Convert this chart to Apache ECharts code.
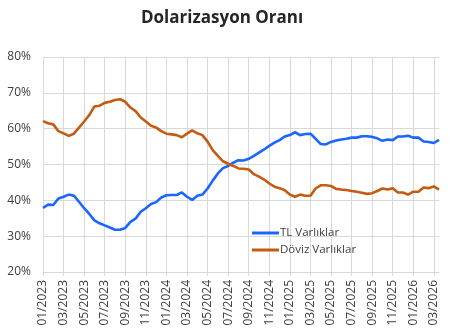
<!DOCTYPE html>
<html>
<head>
<meta charset="utf-8">
<script src="https://cdn.jsdelivr.net/npm/echarts@6/dist/echarts.min.js"></script>
<style>
  html, body { margin: 0; padding: 0; background: #fff; }
  #chart { width: 454px; height: 334px; }
</style>
</head>
<body>
<div id="chart"></div>
<script>
// Semi-monthly observation dates (1st and 16th of each month), Jan 2023 – Mar 2026
const periods = [];
for (let y = 2023; y <= 2026; y++) {
  for (let m = 1; m <= 12; m++) {
    if (y === 2026 && m > 3) break;
    const mm = String(m).padStart(2, '0');
    periods.push(y + '-' + mm + '-01', y + '-' + mm + '-16');
  }
}

// Share of TL deposits in total (%)
const tlVarliklar = [
  37.9, 38.8, 38.7, 40.5, 41.0, 41.6, 41.3, 39.6, 37.8, 36.2,
  34.4, 33.6, 33.0, 32.4, 31.8, 31.8, 32.3, 34.0, 34.9, 36.8,
  37.8, 39.0, 39.5, 40.8, 41.4, 41.5, 41.5, 42.2, 41.0, 40.1,
  41.3, 41.6, 43.3, 45.5, 47.5, 49.0, 49.6, 50.5, 51.2, 51.1,
  51.6, 52.4, 53.3, 54.2, 55.2, 56.1, 56.8, 57.8, 58.2, 59.0,
  58.2, 58.5, 58.6, 57.2, 55.7, 55.6, 56.3, 56.7, 57.0, 57.2,
  57.5, 57.5, 57.9, 57.9, 57.7, 57.3, 56.6, 57.0, 56.8, 57.8,
  57.8, 58.0, 57.5, 57.5, 56.4, 56.3, 56.0, 56.9
];

// Share of FX deposits in total (%)
const dovizVarliklar = [
  62.1, 61.5, 61.2, 59.3, 58.7, 58.0, 58.6, 60.3, 62.0, 63.8,
  66.2, 66.4, 67.2, 67.5, 68.0, 68.2, 67.5, 65.9, 64.9, 63.1,
  62.0, 60.8, 60.3, 59.3, 58.6, 58.4, 58.2, 57.6, 58.6, 59.5,
  58.7, 58.2, 56.4, 54.0, 52.4, 50.9, 50.2, 49.6, 48.9, 48.8,
  48.6, 47.3, 46.6, 45.8, 44.7, 43.8, 43.4, 42.8, 41.6, 41.0,
  41.6, 41.3, 41.3, 43.3, 44.2, 44.2, 44.0, 43.2, 43.0, 42.9,
  42.6, 42.4, 42.1, 41.8, 42.0, 42.6, 43.3, 43.0, 43.4, 42.2,
  42.2, 41.6, 42.4, 42.4, 43.6, 43.4, 43.9, 43.0
];

const seriesNames = ['TL Varlıklar', 'Döviz Varlıklar'];

const gridColor = '#d9d9d9';
const font = '"Open Sans", "Noto Sans", sans-serif';

// a label / gridline on the first day of every odd month
const onOddMonthStart = (idx) => idx % 4 === 0;

const chart = echarts.init(document.getElementById('chart'), null, { renderer: 'canvas' });
chart.setOption({
  animation: false,
  title: {
    text: 'Dolarizasyon Oranı',
    left: 136,
    top: 5,
    textStyle: { fontFamily: font, fontSize: 17, fontWeight: 'bold', color: '#262626' }
  },
  legend: {
    orient: 'vertical',
    left: 247,
    top: 221,
    icon: 'rect',
    itemWidth: 27,
    itemHeight: 3,
    itemGap: 3,
    data: seriesNames,
    textStyle: { fontFamily: font, fontSize: 11.5, color: '#404040', padding: [0, 0, 0, -4], lineHeight: 14 }
  },
  grid: { left: 43, right: 15, top: 57, bottom: 62, containLabel: false },
  xAxis: {
    type: 'category',
    data: periods,
    boundaryGap: false,
    axisLine: { show: true, lineStyle: { color: gridColor } },
    axisTick: { show: true, interval: onOddMonthStart, length: 4, lineStyle: { color: gridColor } },
    splitLine: { show: true, interval: onOddMonthStart, lineStyle: { color: gridColor, width: 1 } },
    axisLabel: {
      interval: onOddMonthStart,
      rotate: 90,
      margin: 8,
      fontFamily: font,
      fontSize: 12,
      color: '#404040',
      formatter: (v) => v.slice(5, 7) + '/' + v.slice(0, 4)
    }
  },
  yAxis: {
    type: 'value',
    min: 20,
    max: 80,
    interval: 10,
    axisLine: { show: false },
    axisTick: { show: false },
    splitLine: { lineStyle: { color: gridColor, width: 1 } },
    axisLabel: {
      margin: 12,
      fontFamily: font,
      fontSize: 12,
      color: '#404040',
      formatter: (v) => v + '%'
    }
  },
  series: [
    {
      name: seriesNames[0],
      type: 'line',
      data: tlVarliklar,
      symbol: 'none',
      lineStyle: { color: '#1a66ff', width: 2.6 },
      itemStyle: { color: '#1a66ff' }
    },
    {
      name: seriesNames[1],
      type: 'line',
      data: dovizVarliklar,
      symbol: 'none',
      lineStyle: { color: '#c55a11', width: 2.6 },
      itemStyle: { color: '#c55a11' }
    }
  ]
});
</script>
</body>
</html>
